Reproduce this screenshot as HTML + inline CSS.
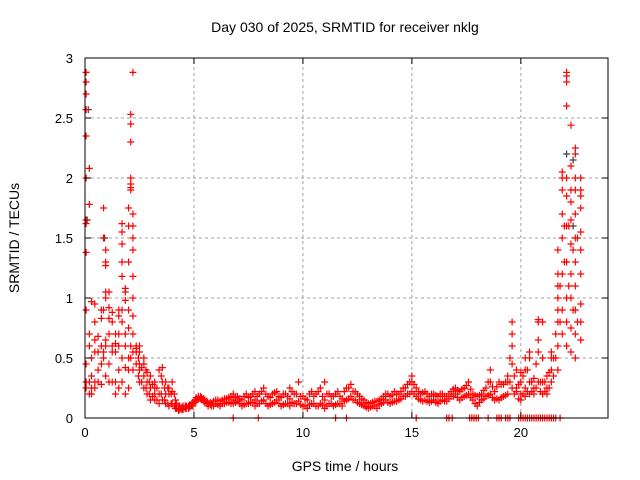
<!DOCTYPE html>
<html><head><meta charset="utf-8"><style>
html,body{margin:0;padding:0;background:#fff}
svg{display:block;font-family:"Liberation Sans",sans-serif}
</style></head><body>
<svg id="chart" width="640" height="480" viewBox="0 0 640 480" xmlns="http://www.w3.org/2000/svg">
<rect x="0" y="0" width="640" height="480" fill="#fff"/>
<text x="345" y="32" font-size="14" text-anchor="middle">Day 030 of 2025, SRMTID for receiver nklg</text>
<text x="345" y="471" font-size="14" text-anchor="middle">GPS time / hours</text>
<text transform="translate(19,238) rotate(-90)" font-size="14" text-anchor="middle">SRMTID / TECUs</text>
<g id="grid"></g>
<g id="marks"></g>
<g id="axes"></g>
</svg>
<script>
const xTicks=[0,5,10,15,20];
const yTicks=[0,0.5,1,1.5,2,2.5,3];
const yTickLabels=["0","0.5","1","1.5","2","2.5","3"];
const redTimes=[0.05,0.2,0.3,0.45,0.6,0.75,0.85,0.95,1.1,1.25,1.4,1.55,1.7,1.85,2.0,2.1,2.2,2.35,2.5,2.7,2.85,3.0,3.2,3.4,3.55,3.7,3.85,4.0,4.15,4.3,4.45,4.6,4.75,4.9,5.05,5.2,5.35,5.5,5.65,5.8,
6.0,6.2,6.4,6.6,6.8,7.0,7.2,7.4,7.6,7.8,8.0,8.2,8.4,8.6,8.8,9.0,9.2,9.4,9.6,9.8,10.0,10.2,10.4,10.6,10.8,11.0,11.2,11.4,11.6,11.8,12.0,12.2,12.4,12.6,12.8,13.0,13.2,13.4,13.6,13.8,14.0,14.2,14.4,14.6,14.8,15.0,15.2,15.4,15.6,15.8,16.0,16.2,16.4,16.6,16.8,17.0,17.2,17.4,17.6,17.8,18.0,18.2,18.4,18.6,18.8,19.0,19.2,19.4,19.6,19.8,20.0,20.2,20.4,20.6,20.8,21.0,21.2,21.4,21.7,21.9,22.1,22.3,22.5,22.75];
const redValues=[
[0.25,0.3,0.45,0.9,1.38,1.62,1.65,2.0,2.35,2.57,2.7,2.8,2.88],[0.2,0.3,0.6,0.7,1.78,2.08],[0.2,0.25,0.35,0.5,0.97],[0.25,0.3,0.55,0.65,0.8,0.95],[0.3,0.4,0.55,0.68],[0.28,0.45,0.6,0.83,0.9],[0.5,0.55,0.9,1.5,1.75],[0.35,0.6,0.65,1.0,1.05,1.27,1.3,1.4],[0.3,0.45,0.7,0.83,0.92,1.05],[0.3,0.55,0.6,0.8,0.88],[0.2,0.3,0.55,0.62,0.7],[0.25,0.4,0.6,0.7,0.85,0.9],[0.3,0.5,0.8,0.9,1.18,1.3,1.45,1.55,1.62],[0.2,0.42,0.6,0.7,0.98,1.05,1.08],[0.25,0.4,0.5,0.75,0.9,1.3,1.6,1.75],[0.5,0.6,1.9,1.92,1.95,2.0,2.3,2.45,2.53],[0.4,0.55,0.7,0.85,1.0,1.18,1.4,1.5,1.6,1.7,2.88],[0.6,0.55,0.58,0.45],[0.3,0.4,0.45,0.55,0.6],[0.25,0.35,0.45,0.5],[0.2,0.3,0.38],[0.15,0.25,0.35],[0.15,0.2,0.25,0.3],[0.12,0.2,0.4],[0.15,0.3,0.42],[0.12,0.2,0.3],[0.1,0.2,0.25],[0.12,0.22,0.3],[0.08,0.1,0.15],[0.06,0.08,0.1],[0.07,0.09],[0.08,0.1],[0.1,0.08],[0.1,0.12],[0.13,0.15],[0.16,0.18],[0.17,0.15],[0.13,0.15],[0.12,0.1],[0.1,0.12],
[0.12,0.15],[0.1,0.14],[0.12,0.16],[0.13,0.17],[0.12,0.15,0.2],[0.14,0.18],[0.1,0.15],[0.12,0.2],[0.13,0.18],[0.1,0.15,0.22],[0.12,0.2],[0.15,0.25],[0.1,0.18],[0.12,0.2],[0.15,0.22],[0.1,0.17],[0.12,0.2],[0.1,0.16,0.25],[0.12,0.2],[0.14,0.3],[0.1,0.18],[0.08,0.15],[0.12,0.22],[0.1,0.2],[0.12,0.25],[0.08,0.15,0.3],[0.12,0.2],[0.1,0.18],[0.12,0.22],[0.1,0.16],[0.15,0.25],[0.18,0.28],[0.15,0.22],[0.12,0.18],[0.1,0.15],[0.08,0.12],[0.1,0.13],[0.08,0.14],[0.12,0.16],[0.15,0.2],[0.12,0.18],[0.14,0.22],[0.15,0.2],[0.18,0.25],[0.2,0.28],[0.22,0.3,0.35],[0.18,0.25],[0.15,0.2],[0.15,0.22],[0.13,0.18],[0.15,0.2],[0.12,0.18],[0.15,0.2],[0.14,0.18],[0.18,0.22],[0.2,0.25],[0.15,0.22],[0.18,0.25],[0.2,0.3],[0.15,0.2],[0.1,0.18],[0.15,0.2],[0.18,0.25],[0.2,0.3,0.4],[0.15,0.22],[0.15,0.3],[0.18,0.28],[0.2,0.3,0.35],[0.25,0.45,0.6,0.7,0.8],[0.22,0.25,0.4],[0.15,0.2,0.3,0.38],[0.18,0.25,0.4,0.5],[0.2,0.3,0.5,0.55],[0.2,0.25,0.33],[0.3,0.55,0.65,0.8,0.82],[0.2,0.5,0.8,0.3],[0.2,0.25,0.35],[0.3,0.4,0.5,0.55],[0.4,0.6,0.8,0.9,1.0,1.1,1.2,1.4],[0.7,0.9,1.2,1.5,1.7,1.9,2.0,2.05],[0.6,0.8,1.0,1.3,1.6,1.85,2.0,2.6,2.8,2.85,2.88],[0.55,0.75,1.0,1.2,1.45,1.65,1.8,1.9,2.1,2.44],[0.5,0.7,0.9,1.1,1.3,1.5,1.7,1.9,2.0,2.2,2.25],[0.65,0.8,0.95,1.2,1.4,1.55,1.75,1.85,1.9,2.0]];
const fillTimes=[2.45,2.6,2.8,2.95,3.1,3.3,3.5,3.65,3.8,3.95,4.1,4.2,4.35,4.5,4.65,4.8,4.95,5.1,5.3,5.45,5.6,5.75,5.9,6.1,6.3,6.5,6.7,6.9,7.1,7.3,7.5,7.7,7.9,8.1,8.3,8.5,8.7,8.9,9.1,9.3,9.5,9.7,9.9,10.1,10.3,10.5,10.7,10.9,11.1,11.3,11.5,11.7,11.9,12.1,12.3,12.5,12.7,12.9,13.1,13.3,13.5,13.7,13.9,14.1,14.3,14.5,14.7,14.9,15.1,15.3,15.5,15.7,15.9,16.1,16.3,16.5,16.7,16.9,17.1,17.3,17.5,17.7,17.9,18.1,18.3,18.5,18.7,18.9,19.1,19.3,19.5,19.7,19.9,20.1,20.3,20.5,20.7,20.9,21.1,21.3,21.5,21.6,21.8,22.0,22.2,22.4,22.6];
const fillValues=[[0.35,0.5],[0.3,0.42],[0.25,0.4],[0.2,0.3],[0.18,0.28],[0.15,0.25],[0.2,0.35],[0.15,0.25],[0.12,0.25],[0.12,0.2],[0.1,0.2],[0.08,0.12],[0.07,0.1],[0.07,0.1],[0.08,0.1],[0.09,0.11],[0.1,0.13],[0.14,0.17],[0.16,0.18],[0.14,0.16],[0.12,0.14],[0.11,0.13],[0.1,0.14],[0.11,0.15],[0.12,0.15],[0.13,0.16],[0.12,0.18],[0.13,0.17],[0.12,0.16],[0.11,0.18],[0.12,0.17],[0.13,0.2],[0.12,0.18],[0.14,0.22],[0.12,0.2],[0.11,0.17],[0.13,0.21],[0.12,0.18],[0.11,0.2],[0.12,0.18],[0.13,0.22],[0.12,0.2],[0.11,0.18],[0.1,0.16],[0.11,0.2],[0.12,0.18],[0.1,0.22],[0.11,0.18],[0.1,0.2],[0.12,0.18],[0.11,0.2],[0.12,0.18],[0.14,0.22],[0.16,0.25],[0.15,0.22],[0.13,0.2],[0.11,0.16],[0.09,0.13],[0.09,0.12],[0.1,0.14],[0.11,0.15],[0.13,0.18],[0.13,0.2],[0.13,0.19],[0.14,0.2],[0.16,0.22],[0.18,0.25],[0.2,0.3],[0.2,0.28],[0.16,0.22],[0.14,0.21],[0.14,0.2],[0.14,0.2],[0.13,0.19],[0.14,0.2],[0.14,0.18],[0.16,0.2],[0.18,0.24],[0.17,0.23],[0.17,0.24],[0.19,0.27],[0.17,0.24],[0.12,0.19],[0.13,0.19],[0.16,0.23],[0.19,0.3],[0.17,0.26],[0.16,0.26],[0.17,0.28],[0.19,0.3],[0.3,0.5],[0.2,0.35],[0.16,0.28],[0.2,0.35],[0.22,0.4],[0.22,0.3],[0.25,0.45],[0.22,0.3],[0.22,0.3],[0.25,0.38],[0.35,0.5],[0.5,0.7],[0.8,1.1],[1.3,1.6],[1.1,1.6],[0.9,1.4],[0.8,1.5]];
const zeroTimes=[6.8,7.95,11.5,12.0,15.2,16.6,16.7,16.85,17.65,17.75,17.85,17.95,18.05,18.5,18.9,19.0,19.1,19.3,19.4,19.5,19.9,20.0,20.1,20.2,20.3,20.4,20.5,20.6,20.7,20.8,20.9,21.0,21.1,21.2,21.3,21.4,21.5,21.6,21.8];
const grayTimes=[0.1,0.15,0.9,22.1,22.4,22.4];
const grayValues=[1.65,2.57,1.5,2.2,2.15,1.6];

const X0=85,X1=608,Y0=418,Y1=58,XMAX=24,YMAX=3;
function xs(t){return X0+(X1-X0)*t/XMAX;}
function ys(v){return Y0-(Y0-Y1)*v/YMAX;}
const NS="http://www.w3.org/2000/svg";
const grid=document.getElementById('grid'),axes=document.getElementById('axes'),marks=document.getElementById('marks');
function mk(tag,attrs,parent){const e=document.createElementNS(NS,tag);for(const k in attrs)e.setAttribute(k,attrs[k]);parent.appendChild(e);return e;}
xTicks.forEach(t=>{
  if(t>0){const g=mk('line',{x1:xs(t),x2:xs(t),y1:Y0,y2:Y1,stroke:'#a0a0a0','stroke-dasharray':'3,3','stroke-width':1},grid);
  
  }
  const tk=mk('path',{d:`M${xs(t)},${Y0}v-6M${xs(t)},${Y1}v6`,stroke:'#000'},axes);
  
  
  const lb=mk('text',{x:xs(t),y:Y0+19,'font-size':13,'text-anchor':'middle'},axes);lb.textContent=t;
  
  
});
yTicks.forEach((v,i)=>{
  if(v>0&&v<YMAX){const g=mk('line',{x1:X0,x2:X1,y1:ys(v),y2:ys(v),stroke:'#a0a0a0','stroke-dasharray':'3,3','stroke-width':1},grid);
  
  }
  const tk=mk('path',{d:`M${X0},${ys(v)}h6M${X1},${ys(v)}h-6`,stroke:'#000'},axes);
  
  
  const lb=mk('text',{x:X0-12,y:ys(v)+5,'font-size':13,'text-anchor':'end'},axes);lb.textContent=yTickLabels[i];
  
  
});
const frame=mk('rect',{x:X0,y:Y1,width:X1-X0,height:Y0-Y1,fill:'none',stroke:'#000','stroke-width':1},axes);


function plus(t,v,color,name){
  const p=mk('path',{d:`M${xs(t)-3.5},${ys(v)}h7M${xs(t)},${ys(v)-3.5}v7`,stroke:color,'stroke-width':1.2},marks);
  
  
}
grayTimes.forEach((t,i)=>plus(t,grayValues[i],'#404040','gray-point'));
redTimes.forEach((t,i)=>redValues[i].forEach(v=>plus(t,v,'#ff0000','red-point')));
fillTimes.forEach((t,i)=>fillValues[i].forEach(v=>plus(t,v,'#ff0000','red-point')));
zeroTimes.forEach(t=>plus(t,0,'#ff0000','zero-point'));
</script>
</body></html>
